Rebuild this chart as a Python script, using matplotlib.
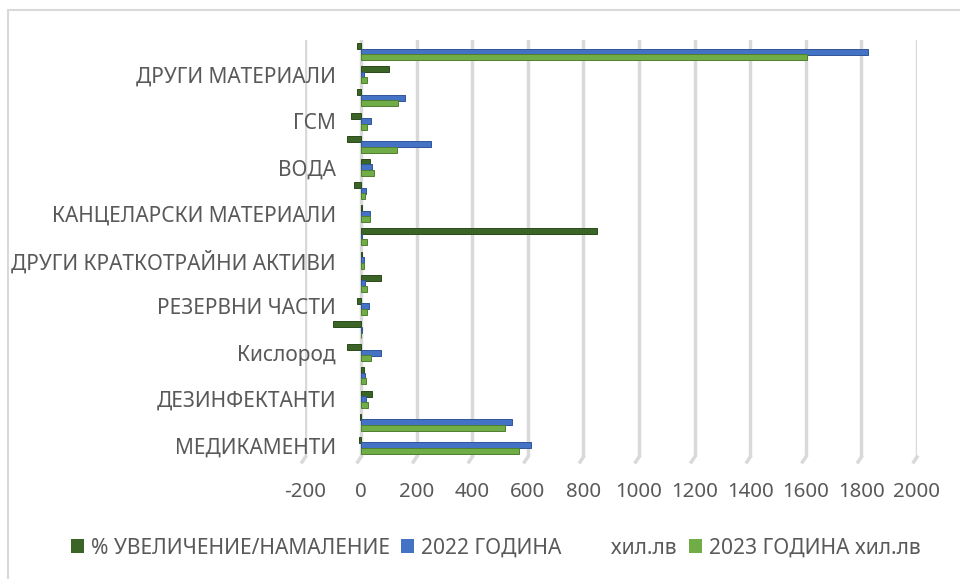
import matplotlib
matplotlib.use("Agg")
import matplotlib.pyplot as plt
import matplotlib.transforms as mtrans
import numpy as np
from matplotlib.patches import Rectangle

categories = ["МЕДИКАМЕНТИ", "", "ДЕЗИНФЕКТАНТИ", "", "Кислород", "",
              "РЕЗЕРВНИ ЧАСТИ", "", "ДРУГИ КРАТКОТРАЙНИ АКТИВИ", "",
              "КАНЦЕЛАРСКИ МАТЕРИАЛИ", "", "ВОДА", "", "ГСМ", "",
              "ДРУГИ МАТЕРИАЛИ", ""]
pct_change = [-7, -5, 39, 12, -49, -100, -15, 71, 2, 849, 5, -25, 32, -49, -37, -15, 102, -13]
y2022 = [612, 544, 18, 16, 72, 4, 27, 13, 10, 2.5, 32, 18, 38, 252, 35, 160, 12, 1822]
y2023 = [569, 518, 25, 18, 37, 1, 23, 23, 10, 23, 34, 14, 48, 131, 23, 134, 23, 1606]
series_names = ["% УВЕЛИЧЕНИЕ/НАМАЛЕНИЕ", "2022 ГОДИНА         хил.лв", "2023 ГОДИНА хил.лв"]
xticks = [-200, 0, 200, 400, 600, 800, 1000, 1200, 1400, 1600, 1800, 2000]

plt.rcParams['font.family'] = ['Noto Sans', 'DejaVu Sans']
TXT = '#595959'

fig = plt.figure(figsize=(9.6, 5.79), dpi=100)
fig.patches.append(Rectangle((8/960, -0.1), 1.2, 1 - 10/579 + 0.1, transform=fig.transFigure,
                             fill=False, edgecolor='#d9d9d9', lw=1.5))

ax = fig.add_axes([305.4/960, 1 - 457/579, 611.6/960, 417/579])
y = np.arange(len(categories))
h = 0.26
off = 0.235
cols = ['#3B6526', '#4472C4', '#70AD47']
edges = ['#2a4a1a', '#2f5597', '#4f7f30']
bars = []
bars.append(ax.barh(y + off, pct_change, height=h, color=cols[0], edgecolor=edges[0], lw=0.7, zorder=3))
bars.append(ax.barh(y, y2022, height=h, color=cols[1], edgecolor=edges[1], lw=0.7, zorder=3))
bars.append(ax.barh(y - off, y2023, height=h, color=cols[2], edgecolor=edges[2], lw=0.7, zorder=3))

ax.set_xlim(-200, 2000)
ax.set_ylim(-0.5, len(categories) - 0.5)
ax.set_xticks(xticks)
ax.set_xticklabels([str(v) for v in xticks])
ax.set_yticks(y)
ax.set_yticklabels(categories)
ax.tick_params(axis='both', length=0, labelcolor=TXT, labelsize=13)
ax.tick_params(axis='x', pad=18)
ax.tick_params(axis='y', pad=18)
ax.spines['left'].set_position(('data', 0))
for s in ax.spines.values():
    s.set_visible(False)
ax.grid(axis='x', color='#d9d9d9', lw=2.5, zorder=0)
ax.set_axisbelow(True)
trans = mtrans.blended_transform_factory(ax.transData, ax.transAxes)
for xv in xticks:
    ax.plot([xv, xv - 12], [0.0, -0.012], transform=trans, color='#d9d9d9', lw=2.5, clip_on=False, zorder=0)

# fit font sizes to the reference text widths
fig.canvas.draw()
r = fig.canvas.get_renderer()
def width_of(t):
    return t.get_window_extent(r).width

yl = [t for t in ax.get_yticklabels() if t.get_text() == "ДРУГИ МАТЕРИАЛИ"][0]
ys = 13 * 200 / width_of(yl)
xl = [t for t in ax.get_xticklabels() if t.get_text() == "2000"][0]
xs = 13 * 47 / width_of(xl)
ax.tick_params(axis='y', labelsize=ys)
ax.tick_params(axis='x', labelsize=xs)

tmp = fig.text(0, 0, series_names[0], fontsize=13)
ls = 13 * 300 / width_of(tmp)
tmp.remove()

legx = [71, 401, 689]
for i in range(3):
    lg = fig.legend([bars[i]], [series_names[i]], loc='center left',
                    bbox_to_anchor=(legx[i] / 960, 1 - 548 / 579), frameon=False,
                    fontsize=ls, handlelength=0.6, handleheight=0.6, handletextpad=0.35,
                    borderpad=0, borderaxespad=0, labelcolor=TXT)
    for p in lg.get_patches():
        p.set_edgecolor('none')

fig.savefig("out.png", dpi=100)
